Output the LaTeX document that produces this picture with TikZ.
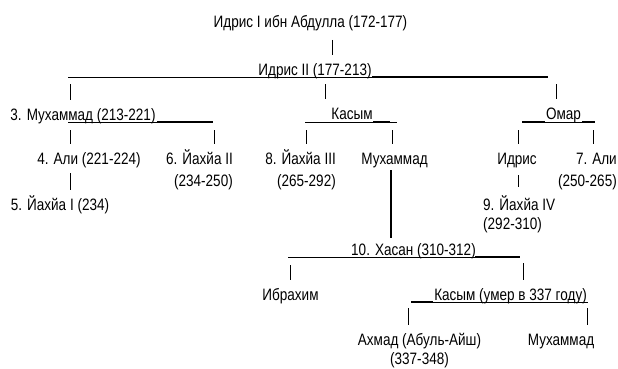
\documentclass[tikz,border=0pt]{standalone}
\usepackage{fontspec}
\setmainfont{Liberation Sans}[FakeStretch=0.82]
\tikzstyle{person}=[inner sep=0, anchor=base, font=\fontsize{16.5}{21}\selectfont]
\tikzstyle{bar}=[line width=0.9pt]
\tikzstyle{heavy bar}=[line width=1.8pt]
\tikzstyle{stub}=[line width=0.9pt]
\tikzstyle{heavy stub}=[line width=2.4pt]

\begin{document}
\begin{tikzpicture}[x=1pt, y=-1pt]
      \useasboundingbox (0,0) rectangle (618,369);

      \node[person] (idris_one) at (310.5,28) {Идрис I ибн Абдулла (172-177)};
      \node[person] (idris_two) at (315,75) {Идрис II (177-213)};

      \node[person] (muh_three) at (83,120) {3. Мухаммад (213-221)};
      \node[person] (kasym) at (352,119) {Касым};
      \node[person] (omar) at (563.5,119) {Омар};

      \node[person] (ali_four) at (89,164) {4. Али (221-224)};
      \node[person, anchor=base east] (yahya_six) at (233,164)
        {\begin{tabular}[t]{@{}r@{}}6. Йахйа II\\[1pt](234-250)\end{tabular}};
      \node[person, anchor=base east] (yahya_eight) at (336,164)
        {\begin{tabular}[t]{@{}r@{}}8. Йахйа III\\[1pt](265-292)\end{tabular}};
      \node[person] (muh_kasym) at (394.5,164) {Мухаммад};
      \node[person] (idris_omar) at (517,164) {Идрис};
      \node[person, anchor=base east] (ali_seven) at (617,164)
        {\begin{tabular}[t]{@{}r@{}}7. Али\\[1pt](250-265)\end{tabular}};

      \node[person] (yahya_five) at (60,210) {5. Йахйа I (234)};
      \node[person, anchor=base west] (yahya_nine) at (483,210)
        {\begin{tabular}[t]{@{}l@{}}9. Йахйа IV\\[-2pt](292-310)\end{tabular}};

      \node[person] (hasan_ten) at (413.5,255) {10. Хасан (310-312)};
      \node[person] (ibrahim) at (290.5,300) {Ибрахим};
      \node[person] (kasym_hasan) at (510.5,300) {Касым (умер в 337 году)};
      \node[person] (ahmad) at (419.5,345)
        {\begin{tabular}[t]{@{}c@{}}Ахмад (Абуль-Айш)\\[-2pt](337-348)\end{tabular}};
      \node[person] (muh_hasan) at (561,345) {Мухаммад};

      % bars under the names
      \coordinate (two_l) at (68,77);
      \coordinate (two_m) at (372,77);
      \coordinate (two_r) at (548,77);
      \draw[bar] (two_l) -- (two_m);
      \draw[heavy bar] (two_m) -- (two_r);

      \coordinate (three_l) at (68,122);
      \coordinate (three_m) at (157,122);
      \coordinate (three_r) at (213,122);
      \draw[bar] (three_l) -- (three_m);
      \draw[heavy bar] (three_m) -- (three_r);

      \coordinate (kasym_l) at (305,122);
      \coordinate (kasym_r) at (397,122);
      \draw[bar] (kasym_l) -- (kasym_r);
      \draw[heavy bar] (373,122) -- (390,122);

      \coordinate (omar_l) at (522,122);
      \coordinate (omar_r) at (595,122);
      \draw[heavy bar] (omar_l) -- (545,122);
      \draw[bar] (545,122) -- (582,122);
      \draw[heavy bar] (582,122) -- (omar_r);

      \coordinate (hasan_l) at (288,257);
      \coordinate (hasan_m) at (475,257);
      \coordinate (hasan_r) at (520,257);
      \draw[bar] (hasan_l) -- (hasan_m);
      \draw[heavy bar] (hasan_m) -- (hasan_r);

      \coordinate (kasym2_l) at (411,302);
      \coordinate (kasym2_m) at (433,302);
      \coordinate (kasym2_r) at (588,302);
      \draw[heavy bar] (kasym2_l) -- (kasym2_m);
      \draw[bar] (kasym2_m) -- (kasym2_r);

      % stubs down to the sons
      \coordinate (s_one) at (332,40);
      \coordinate (s_muh3) at (70,77);
      \coordinate (s_kasym) at (325,77);
      \coordinate (s_omar) at (556,77);
      \coordinate (s_ali4) at (70,122);
      \coordinate (s_yahya6) at (214,122);
      \coordinate (s_yahya8) at (306,122);
      \coordinate (s_muhk) at (392,122);
      \coordinate (s_idriso) at (518,122);
      \coordinate (s_ali7) at (593,122);
      \coordinate (s_yahya5) at (70,173);
      \coordinate (s_yahya9) at (518,175);
      \coordinate (s_hasan) at (391,170);
      \coordinate (s_ibrahim) at (290,257);
      \coordinate (s_kasymh) at (523,257);
      \coordinate (s_ahmad) at (408,302);
      \coordinate (s_muhh) at (587,302);

      \draw[stub] (s_one) -- ([yshift=20pt]s_one |- idris_two.base);
      \draw[stub] ([yshift=-7pt]s_muh3) -- ([yshift=20pt]s_muh3 |- muh_three.base);
      \draw[stub] ([yshift=-7pt]s_kasym) -- ([yshift=20pt]s_kasym |- kasym.base);
      \draw[stub] ([yshift=-7pt]s_omar) -- ([yshift=20pt]s_omar |- omar.base);
      \draw[stub] ([yshift=-8pt]s_ali4) -- ([yshift=20pt]s_ali4 |- ali_four.base);
      \draw[stub] ([yshift=-8pt]s_yahya6) -- ([yshift=20pt]s_yahya6 |- yahya_six.base);
      \draw[stub] ([yshift=-8pt]s_yahya8) -- ([yshift=20pt]s_yahya8 |- yahya_eight.base);
      \draw[stub] ([yshift=-8pt]s_muhk) -- ([yshift=20pt]s_muhk |- muh_kasym.base);
      \draw[stub] ([yshift=-8pt]s_idriso) -- ([yshift=20pt]s_idriso |- idris_omar.base);
      \draw[stub] ([yshift=-8pt]s_ali7) -- ([yshift=20pt]s_ali7 |- ali_seven.base);
      \draw[stub] (s_yahya5) -- ([yshift=20pt]s_yahya5 |- yahya_five.base);
      \draw[stub] (s_yahya9) -- ([yshift=23pt]s_yahya9 |- yahya_nine.base);
      \draw[heavy stub] (s_hasan) -- ([yshift=17pt]s_hasan |- hasan_ten.base);
      \draw[stub] ([yshift=-8pt]s_ibrahim) -- ([yshift=20pt]s_ibrahim |- ibrahim.base);
      \draw[stub] ([yshift=-6pt]s_kasymh) -- ([yshift=20pt]s_kasymh |- kasym_hasan.base);
      \draw[stub] ([yshift=-6pt]s_ahmad) -- ([yshift=20pt]s_ahmad |- ahmad.base);
      \draw[stub] ([yshift=-6pt]s_muhh) -- ([yshift=20pt]s_muhh |- muh_hasan.base);
\end{tikzpicture}
\end{document}
